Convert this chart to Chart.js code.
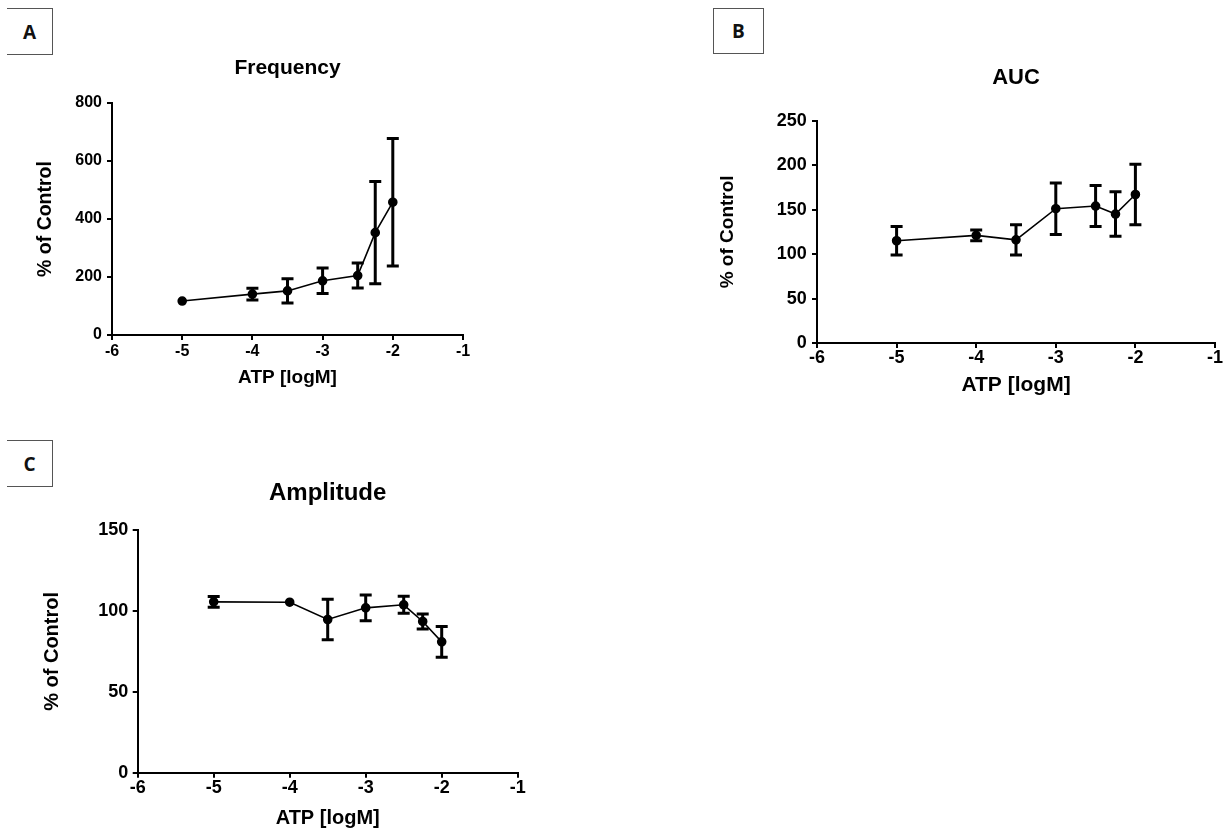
<!DOCTYPE html>
<html>
<head>
<meta charset="utf-8">
<script src="https://cdn.jsdelivr.net/npm/chart.js@4.4.1/dist/chart.umd.min.js"></script>
<style>
  html, body { margin: 0; padding: 0; background: #fff; overflow: hidden; }
  body { width: 1224px; height: 829px; position: relative; }
  canvas { position: absolute; }
  .panel {
    position: absolute; box-sizing: border-box; border: 1px solid #555;
    font: bold 19px "Open Sans", "Liberation Sans", sans-serif; color: #111;
    display: flex; align-items: center; justify-content: center;
  }
</style>
</head>
<body>
<div class="panel" style="left:7px;top:8px;width:46px;height:47px;border-left:none">A</div>
<div class="panel" style="left:713px;top:8px;width:51px;height:46px">B</div>
<div class="panel" style="left:7px;top:440px;width:46px;height:47px;border-left:none">C</div>

<canvas id="chartA" width="575" height="400" style="left:0;top:0"></canvas>
<canvas id="chartB" width="632" height="410" style="left:700px;top:0"></canvas>
<canvas id="chartC" width="655" height="400" style="left:0;top:440px"></canvas>

<script>
// ATP Konzentrationen (log M)
const atpLog = [-5, -4, -3.5, -3, -2.5, -2.25, -2];

// Frequency (% of Control), Mittelwert und Fehler
const freqMean = [117, 141, 152, 187, 205, 353, 458];
const freqErr  = [0, 20, 42, 44, 43, 176, 220];

// AUC
const aucMean = [115, 121, 116, 151, 154, 145, 167];
const aucErr  = [16, 6, 17, 29, 23, 25, 34];

// Amplitude
const ampMean = [105.6, 105.4, 94.7, 101.9, 103.8, 93.5, 80.9];
const ampErr  = [3.3, 0, 12.5, 8, 5.3, 4.6, 9.5];

// Achsenbereiche
const xRange = [-6, -1];
const freqYTicks = [0, 800, 200];   // min, max, step
const aucYTicks  = [0, 250, 50];
const ampYTicks  = [0, 150, 50];

Chart.defaults.font.family = '"Liberation Sans", Arial, sans-serif';

const errorBarPlugin = {
  id: 'errorBars',
  afterDatasetsDraw(chart) {
    const { ctx } = chart;
    const xs = chart.scales.x, ys = chart.scales.y;
    chart.data.datasets.forEach(ds => {
      ctx.save();
      ctx.strokeStyle = '#000';
      ctx.lineWidth = 3;
      ds.data.forEach((p, i) => {
        const e = ds.errors[i];
        if (!e) return;
        const px = xs.getPixelForValue(p.x);
        const top = ys.getPixelForValue(p.y + e);
        const bot = ys.getPixelForValue(p.y - e);
        ctx.beginPath();
        ctx.moveTo(px, top); ctx.lineTo(px, bot);
        ctx.moveTo(px - 6, top); ctx.lineTo(px + 6, top);
        ctx.moveTo(px - 6, bot); ctx.lineTo(px + 6, bot);
        ctx.stroke();
      });
      ctx.restore();
    });
  }
};

function buildChart(canvasId, s) {
  const cv = document.getElementById(canvasId);
  const W = cv.width, H = cv.height;
  const titleLH = s.titleSize * 1.2;
  const xTitleLH = s.xTitleSize * 1.2;
  const yTitleLH = s.yTitleSize * 1.2;

  new Chart(cv, {
    type: 'scatter',
    data: {
      datasets: [{
        data: atpLog.map((x, i) => ({ x: x, y: s.means[i] })),
        errors: s.errs,
        showLine: true,
        borderColor: '#000',
        backgroundColor: '#000',
        borderWidth: 1.6,
        pointRadius: 4,
        pointHoverRadius: 4
      }]
    },
    options: {
      responsive: false,
      animation: false,
      events: [],
      layout: {
        padding: { left: 0, top: 0, right: W - s.area.right, bottom: H - s.area.bottom - s.xAxisH }
      },
      plugins: {
        legend: { display: false },
        tooltip: { enabled: false },
        title: {
          display: true,
          fullSize: false,
          text: s.title,
          color: '#000',
          font: { size: s.titleSize, weight: 'bold', lineHeight: 1.2 },
          padding: { top: s.titleY - titleLH / 2, bottom: s.area.top - s.titleY - titleLH / 2 }
        }
      },
      scales: {
        x: {
          type: 'linear',
          min: xRange[0],
          max: xRange[1],
          afterFit: a => { a.height = s.xAxisH; },
          ticks: {
            stepSize: 1,
            color: '#000',
            font: { size: s.tickSize, weight: 'bold', lineHeight: 1 },
            padding: s.xLabelY - s.area.bottom - 5 - s.tickSize / 2
          },
          grid: { drawOnChartArea: false, color: '#000', lineWidth: 2, tickLength: 5 },
          border: { color: '#000', width: 2 },
          title: {
            display: true,
            text: 'ATP [logM]',
            color: '#000',
            font: { size: s.xTitleSize, weight: 'bold', lineHeight: 1.2 },
            padding: { top: 0, bottom: s.area.bottom + s.xAxisH - s.xTitleY - xTitleLH / 2 }
          }
        },
        y: {
          min: s.yTicks[0],
          max: s.yTicks[1],
          afterFit: a => { a.width = s.area.left; },
          ticks: {
            stepSize: s.yTicks[2],
            color: '#000',
            font: { size: s.tickSize, weight: 'bold', lineHeight: 1 },
            padding: s.area.left - 5 - s.yLabelRight
          },
          grid: { drawOnChartArea: false, color: '#000', lineWidth: 2, tickLength: 5 },
          border: { color: '#000', width: 2 },
          title: {
            display: true,
            text: '% of Control',
            color: '#000',
            font: { size: s.yTitleSize, weight: 'bold', lineHeight: 1.2 },
            padding: { top: s.yTitleX - yTitleLH / 2, bottom: 0 }
          }
        }
      }
    },
    plugins: [errorBarPlugin]
  });
}

buildChart('chartA', {
  title: 'Frequency', means: freqMean, errs: freqErr, yTicks: freqYTicks,
  area: { left: 112, right: 463, top: 103, bottom: 335 },
  titleSize: 21, titleY: 68, tickSize: 16, xTitleSize: 19, yTitleSize: 19.5,
  xLabelY: 351.3, yLabelRight: 102, xTitleY: 378, yTitleX: 46, xAxisH: 60
});

buildChart('chartB', {
  title: 'AUC', means: aucMean, errs: aucErr, yTicks: aucYTicks,
  area: { left: 117, right: 515, top: 120.7, bottom: 343 },
  titleSize: 22, titleY: 77.7, tickSize: 18, xTitleSize: 21, yTitleSize: 19,
  xLabelY: 358.3, yLabelRight: 106.7, xTitleY: 385.7, yTitleX: 27.5, xAxisH: 60
});

buildChart('chartC', {
  title: 'Amplitude', means: ampMean, errs: ampErr, yTicks: ampYTicks,
  area: { left: 137.7, right: 517.7, top: 90, bottom: 332.8 },
  titleSize: 24, titleY: 53, tickSize: 18, xTitleSize: 20, yTitleSize: 20,
  xLabelY: 348, yLabelRight: 128.3, xTitleY: 378, yTitleX: 52.5, xAxisH: 62
});
</script>
</body>
</html>
